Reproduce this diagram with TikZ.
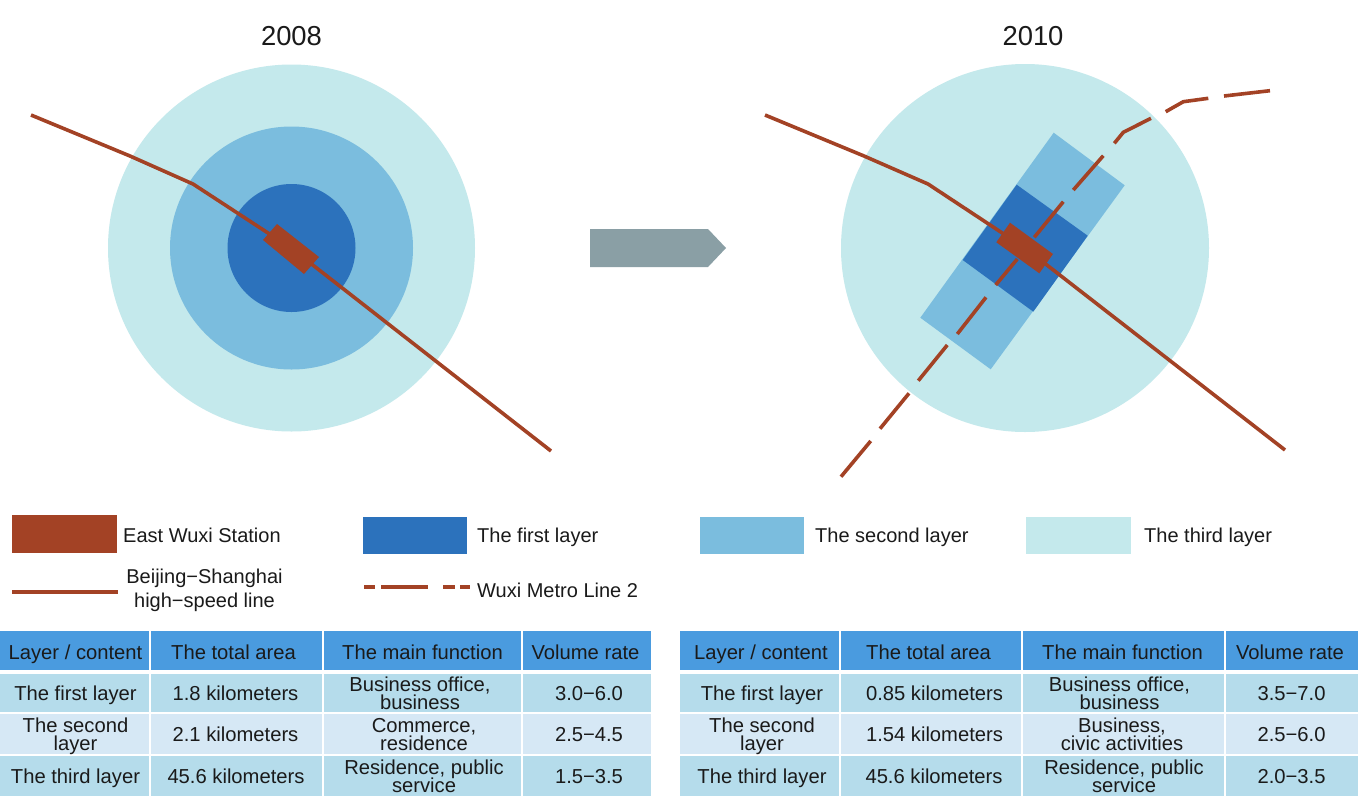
\documentclass[tikz,border=0pt]{standalone}
\usepackage{fontspec}
\setmainfont{Liberation Sans}
\definecolor{brownc}{HTML}{A34225}
\definecolor{firstc}{HTML}{2C72BC}
\definecolor{secondc}{HTML}{7BBDDE}
\definecolor{thirdc}{HTML}{C4E9EC}
\definecolor{arrowc}{HTML}{8A9FA5}
\definecolor{headc}{HTML}{4A9BDF}
\definecolor{rowa}{HTML}{B5DCEB}
\definecolor{rowb}{HTML}{D6E8F5}
\definecolor{inkc}{HTML}{1A1A1A}
\newcommand{\st}[1]{\rule[-2pt]{0pt}{18pt}\smash{#1}}
\newcommand{\stw}[1]{\rule[-5pt]{0pt}{24pt}\smash{#1}}
\tikzset{
  txt/.style={font=\fontsize{20.2}{18}\selectfont, text=inkc, align=center, inner sep=0pt},
  legtxt/.style={font=\fontsize{20}{18}\selectfont, text=inkc, align=center, inner sep=0pt},
  ttl/.style={font=\fontsize{27.4}{30}\selectfont, text=inkc, inner sep=0pt},
  rail/.style={draw=brownc, line width=3.6pt, line join=round},
  metro/.style={draw=brownc, line width=3.6pt, line join=round}
}
% cell: x1,y1,x2,y2,colour,text centre x,text
\newcommand{\tcell}[7]{%
  \fill[#5] (#1,#2) rectangle (#3,#4);
  \node[txt] at (#6,{(#2+#4)/2}) {#7};
}
% header cell: text sits a little below the middle
\newcommand{\hcell}[6]{%
  \fill[headc] (#1,#2) rectangle (#3,#4);
  \node[txt] at (#5,{(#2+#4)/2+1.5}) {#6};
}
\begin{document}
\begin{tikzpicture}[x=1pt,y=-1pt]
\useasboundingbox (0,0) rectangle (1358,796);
\fill[white] (0,0) rectangle (1358,796);

% titles
\node[ttl] (t08) at (291.5,36) {2008};
\node[ttl] (t10) at (1033,36) {2010};

% left rings
\fill[thirdc] (291.5,248) circle (183.5);
\fill[secondc] (291.5,248) circle (121.5);
\fill[firstc] (291.5,248) circle (64);
\draw[rail] (31,115) -- (130,156) -- (193,184) -- (291,248) -- (551,451);
\fill[brownc] (277,224) -- (319,257) -- (304,274) -- (263,240) -- cycle;

% right plan
\fill[thirdc] (1025,248) circle (184);
\fill[secondc] (1053.7,132.7) -- (1124.7,185.3) -- (990.7,369.3) -- (920.3,317.7) -- cycle;
\fill[firstc] (1016.7,184.7) -- (1087.7,235.7) -- (1033.3,311.7) -- (962.7,260) -- cycle;
\draw[rail] (765,115) -- (864,156) -- (928,184) -- (1025,248) -- (1285,450);
\draw[metro] (1224,96) -- (1270,90.7);
\draw[metro] (1165.7,111.7) -- (1183.3,101.7) -- (1208.3,98.3);
\draw[metro] (1114.3,143.3) -- (1123.3,132.3) -- (1151,118.3);
\draw[metro] (1073.3,190) -- (1103.3,155.7);
\draw[metro] (1034.3,237.3) -- (1063.3,201.7);
\draw[metro] (995.7,285) -- (1017.3,259);
\draw[metro] (957.3,334) -- (986,297.3);
\draw[metro] (918.3,380.7) -- (947.3,345);
\draw[metro] (880,428.7) -- (909,393.3);
\draw[metro] (841,476.7) -- (870.7,441);
\fill[brownc] (1010,222.7) -- (1053,254) -- (1039.3,273.3) -- (996.3,242.3) -- cycle;

% block arrow
\fill[arrowc] (590,229) -- (708,229) -- (726,248) -- (708,267) -- (590,267) -- cycle;

% legend
\fill[brownc] (12,515) rectangle (117,553);
\node[legtxt,anchor=west] (l1) at (123,535) {\st{East Wuxi Station}};
\fill[firstc] (363,517) rectangle (467,554);
\node[legtxt,anchor=west] (l2) at (477,535) {\st{The first layer}};
\fill[secondc] (700,517) rectangle (804,554);
\node[legtxt,anchor=west] (l3) at (815,535) {\st{The second layer}};
\fill[thirdc] (1026,517) rectangle (1131,554);
\node[legtxt,anchor=west] (l4) at (1144,535) {\st{The third layer}};
\draw[rail] (12,592) -- (118,592);
\node[legtxt,font=\fontsize{20}{24}\selectfont] (l5) at (204.5,588) {\stw{Beijing−Shanghai}\\\stw{high−speed line}};
\draw[metro] (364,587) -- (375,587);
\draw[metro] (381,587) -- (428,587);
\draw[metro] (443,587) -- (455,587);
\draw[metro] (460,587) -- (470,587);
\node[legtxt,anchor=west] (l6) at (477,590) {\st{Wuxi Metro Line 2}};

% left table
\hcell{0}{631}{149}{670}{75.5}{\st{Layer / content}}
\hcell{151}{631}{322}{670}{233.5}{\st{The total area}}
\hcell{324}{631}{521}{670}{422.5}{\st{The main function}}
\hcell{523}{631}{651}{670}{585.5}{\st{Volume rate}}
\tcell{0}{674}{149}{712}{rowa}{75.5}{\st{The first layer}}
\tcell{151}{674}{322}{712}{rowa}{235.5}{\st{1.8 kilometers}}
\tcell{324}{674}{521}{712}{rowa}{420}{\st{Business office,}\\\st{business}}
\tcell{523}{674}{651}{712}{rowa}{589}{\st{3.0−6.0}}
\tcell{0}{714}{149}{754}{rowb}{75.5}{\st{The second}\\\st{layer}}
\tcell{151}{714}{322}{754}{rowb}{235.5}{\st{2.1 kilometers}}
\tcell{324}{714}{521}{754}{rowb}{424}{\st{Commerce,}\\\st{residence}}
\tcell{523}{714}{651}{754}{rowb}{589}{\st{2.5−4.5}}
\tcell{0}{756}{149}{796}{rowa}{75.5}{\st{The third layer}}
\tcell{151}{756}{322}{796}{rowa}{236}{\st{45.6 kilometers}}
\tcell{324}{756}{521}{796}{rowa}{424}{\st{Residence, public}\\\st{service}}
\tcell{523}{756}{651}{796}{rowa}{589}{\st{1.5−3.5}}

% right table
\hcell{680}{631}{839}{670}{761}{\st{Layer / content}}
\hcell{841}{631}{1021}{670}{928.5}{\st{The total area}}
\hcell{1023}{631}{1224}{670}{1122.5}{\st{The main function}}
\hcell{1226}{631}{1358}{670}{1290}{\st{Volume rate}}
\tcell{680}{674}{839}{712}{rowa}{762}{\st{The first layer}}
\tcell{841}{674}{1021}{712}{rowa}{934.5}{\st{0.85 kilometers}}
\tcell{1023}{674}{1224}{712}{rowa}{1119.5}{\st{Business office,}\\\st{business}}
\tcell{1226}{674}{1358}{712}{rowa}{1291.5}{\st{3.5−7.0}}
\tcell{680}{714}{839}{754}{rowb}{762}{\st{The second}\\\st{layer}}
\tcell{841}{714}{1021}{754}{rowb}{934.5}{\st{1.54 kilometers}}
\tcell{1023}{714}{1224}{754}{rowb}{1122}{\st{Business,}\\\st{civic activities}}
\tcell{1226}{714}{1358}{754}{rowb}{1291.5}{\st{2.5−6.0}}
\tcell{680}{756}{839}{796}{rowa}{762}{\st{The third layer}}
\tcell{841}{756}{1021}{796}{rowa}{934}{\st{45.6 kilometers}}
\tcell{1023}{756}{1224}{796}{rowa}{1124}{\st{Residence, public}\\\st{service}}
\tcell{1226}{756}{1358}{796}{rowa}{1291.5}{\st{2.0−3.5}}
\end{tikzpicture}
\end{document}
